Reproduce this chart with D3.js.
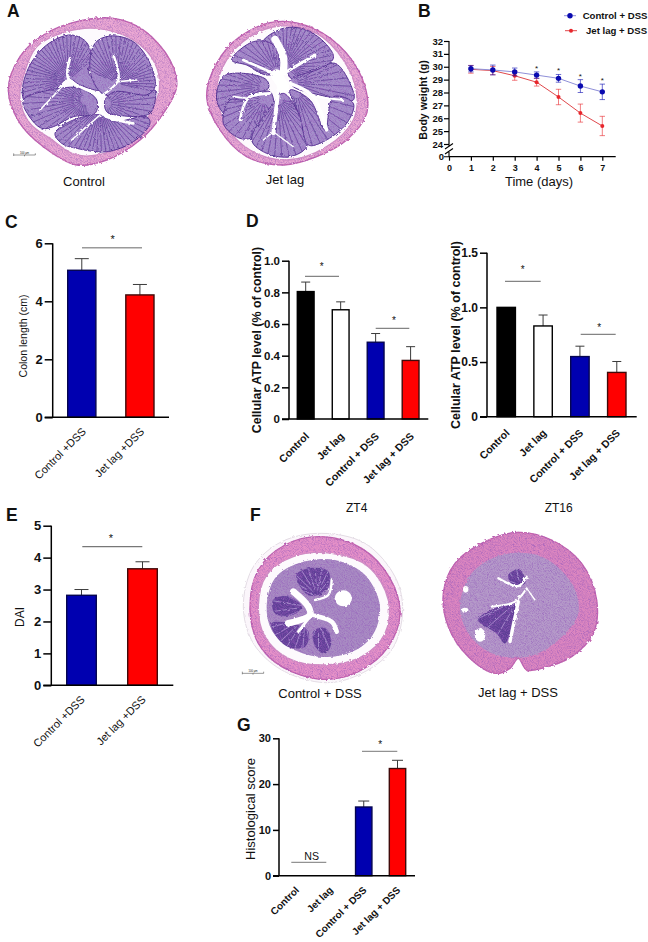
<!DOCTYPE html>
<html><head><meta charset="utf-8">
<style>html,body{margin:0;padding:0;background:#fff}svg{display:block}text{font-family:"Liberation Sans",Arial,sans-serif;fill:#111}</style>
<script src="https://cdn.jsdelivr.net/npm/d3@7"></script></head><body><svg id="c" width="648" height="942"></svg>
<script>
// ---------- data ----------
const days=[1,2,3,4,5,6,7];
const bodyControl=[29.85,29.75,29.6,29.35,29.1,28.5,28.05];
const bodyControlErr=[0.25,0.38,0.3,0.25,0.3,0.5,0.6];
const bodyJet=[29.8,29.7,29.3,28.8,27.65,26.4,25.4];
const bodyJetErr=[0.3,0.32,0.35,0.3,0.6,0.7,0.75];
const bodyStars=[4,5,6,7];
const catsTwo=["Control +DSS","Jet lag +DSS"];
const catsFour=["Control","Jet lag","Control + DSS","Jet lag + DSS"];
const colonLength=[5.07,4.22], colonTop=[5.47,4.58];
const atpZT4=[0.805,0.69,0.485,0.37], atpZT4Top=[0.865,0.74,0.54,0.457];
const atpZT16=[1.0,0.83,0.55,0.405], atpZT16Top=[1.0,0.93,0.645,0.505];
const dai=[2.82,3.65], daiTop=[3.0,3.87];
const histo=[0,0,15,23.4], histoTop=[0,0,16.3,25.2];
const fills2=["#0000b0","#ff0000"], strokes2=["#050550","#400a0a"];
const fills4=["#000","#fff","#0000b0","#ff0000"], strokes4=["#000","#000","#050550","#400a0a"];

const svg=d3.select("#c");
const defs=svg.append("defs");
const f=defs.append("filter").attr("id","grain").attr("x","-5%").attr("y","-5%").attr("width","110%").attr("height","110%");
f.append("feTurbulence").attr("type","fractalNoise").attr("baseFrequency",0.12).attr("numOctaves",2).attr("seed",4).attr("result","n");
f.append("feDisplacementMap").attr("in","SourceGraphic").attr("in2","n").attr("scale",9);
f.append("feGaussianBlur").attr("stdDeviation",1.1);
const tx=defs.append("filter").attr("id","tex").attr("x","-2%").attr("y","-2%").attr("width","104%").attr("height","104%");
tx.append("feTurbulence").attr("type","fractalNoise").attr("baseFrequency",0.28).attr("numOctaves",3).attr("seed",9).attr("result","n");
tx.append("feColorMatrix").attr("in","n").attr("type","matrix").attr("values","0 0 0 0 .3  0 0 0 0 .1  0 0 0 0 .5  1.6 0 0 0 -.62").attr("result","d");
tx.append("feComposite").attr("in","d").attr("in2","SourceAlpha").attr("operator","in").attr("result","s");
const tm=tx.append("feMerge");
tm.append("feMergeNode").attr("in","SourceGraphic");
tm.append("feMergeNode").attr("in","s");

function label(x,y,t,size,weight,anchor,rot,fill){
  const e=svg.append("text").attr("font-size",size).attr("font-weight",weight||"normal").attr("text-anchor",anchor||"middle").text(t);
  if(rot!==undefined) e.attr("transform",`translate(${x},${y}) rotate(${rot})`); else e.attr("x",x).attr("y",y);
  if(fill) e.style("fill",fill);
  return e;
}
function sig(x0,x1,y,color,sw,t,tx,ty,size){
  svg.append("line").attr("x1",x0).attr("x2",x1).attr("y1",y).attr("y2",y).attr("stroke",color).attr("stroke-width",sw);
  label(tx,ty,t,size||10,"normal");
}

// ---------- bar panels ----------
function barPanel(o){
  const y=d3.scaleLinear().domain([0,o.max]).range([o.y0,o.y1]);
  const x=d3.scaleBand().domain(o.cats).range([o.b0,o.b1]).paddingInner(o.pad).paddingOuter(0);
  const g=svg.append("g");
  o.cats.forEach((c,i)=>{
    if(o.vals[i]<=0) return;
    const cx=x(c)+x.bandwidth()/2;
    g.append("line").attr("x1",cx).attr("x2",cx).attr("y1",y(o.vals[i])).attr("y2",y(o.tops[i])).attr("stroke","#3a3a3a").attr("stroke-width",1);
    if(o.tops[i]>o.vals[i]) g.append("line").attr("x1",cx-o.cap).attr("x2",cx+o.cap).attr("y1",y(o.tops[i])).attr("y2",y(o.tops[i])).attr("stroke","#3a3a3a").attr("stroke-width",1);
  });
  g.selectAll("rect").data(o.cats).join("rect")
    .attr("x",d=>x(d)).attr("width",x.bandwidth())
    .attr("y",(d,i)=>y(o.vals[i])).attr("height",(d,i)=>o.y0-y(o.vals[i]))
    .attr("fill",(d,i)=>o.fills[i]).attr("stroke",(d,i)=>o.strokes[i]).attr("stroke-width",1.4);
  const ya=svg.append("g").attr("transform",`translate(${o.ax},0)`)
    .call(d3.axisLeft(y).tickValues(o.ticks).tickFormat(o.fmt).tickSize(o.tick).tickPadding(2));
  ya.selectAll("path,line").attr("stroke","#000").attr("stroke-width",1.5);
  ya.select("path").attr("d",`M0,${o.y0}V${o.y1}`);
  ya.selectAll("text").attr("font-size",o.tsize).attr("font-weight","bold").attr("font-family",null);
  svg.append("line").attr("x1",o.ax-o.tick).attr("x2",o.xEnd).attr("y1",o.y0).attr("y2",o.y0).attr("stroke","#000").attr("stroke-width",1.5);
  o.cats.forEach(c=>{
    label(x(c)+x.bandwidth()/2+o.ldx,o.y0+o.ldy,c,o.lsize,o.lweight,"end",-45);
  });
  return {x,y};
}
barPanel({cats:catsTwo,vals:colonLength,tops:colonTop,max:6,y0:417.3,y1:243.3,b0:67.7,b1:154,pad:0.515,ax:52.7,xEnd:169,cap:7,
  ticks:[0,2,4,6],fmt:d3.format("d"),tick:8,tsize:13,fills:fills2,strokes:strokes2,ldx:5,ldy:15,lsize:11,lweight:"normal"});
barPanel({cats:catsFour,vals:atpZT4,tops:atpZT4Top,max:1,y0:419,y1:260.7,b0:297.3,b1:419,pad:0.52,ax:289,xEnd:428.3,cap:4.5,
  ticks:[0,.2,.4,.6,.8,1],fmt:d=>d===0?"0":d3.format(".1f")(d),tick:7,tsize:11.5,fills:fills4,strokes:strokes4,ldx:4,ldy:18,lsize:10.5,lweight:"bold"});
barPanel({cats:catsFour,vals:atpZT16,tops:atpZT16Top,max:1.5,y0:416.7,y1:252.7,b0:497,b1:626,pad:0.5,ax:487,xEnd:636.7,cap:4.5,
  ticks:[0,.5,1,1.5],fmt:d=>d===0?"0":d3.format(".1f")(d),tick:7,tsize:12,fills:fills4,strokes:strokes4,ldx:4,ldy:17,lsize:10.5,lweight:"bold"});
barPanel({cats:catsTwo,vals:dai,tops:daiTop,max:5,y0:685.3,y1:525.7,b0:66.7,b1:157.3,pad:0.515,ax:51.3,xEnd:173.3,cap:7,
  ticks:[0,1,2,3,4,5],fmt:d3.format("d"),tick:8,tsize:13,fills:fills2,strokes:strokes2,ldx:4,ldy:15,lsize:11,lweight:"normal"});
barPanel({cats:catsFour,vals:histo,tops:histoTop,max:30,y0:875.7,y1:738.3,b0:288,b1:405.7,pad:0.515,ax:279,xEnd:415,cap:5.5,
  ticks:[0,10,20,30],fmt:d3.format("d"),tick:6,tsize:11,fills:fills4,strokes:strokes4,ldx:3.5,ldy:15,lsize:10,lweight:"bold"});

// significance marks
sig(82,142,247.7,"#9a9a9a",1.6,"*",112.7,243,11);
sig(305,339,276.3,"#666",1,"*",321.7,270,10);
sig(375.7,409.3,328.3,"#666",1,"*",394,324,10);
sig(505,540.7,281.3,"#666",1,"*",522.7,273,10);
sig(580.7,615.7,334.3,"#666",1,"*",599.3,331,10);
sig(82.3,142.3,546.7,"#777",1.3,"*",111,542,11);
sig(291.3,326.3,862.3,"#777",1,"NS",311.7,860,10.6);
sig(362,397.3,751.3,"#777",1,"*",380.3,748,10);

// axis titles
label(27,336,"Colon length (cm)",10.5,"normal","middle",-90);
label(260.5,340,"Cellular ATP level (% of control)",12.4,"bold","middle",-90);
label(459.5,335,"Cellular ATP level (% of control)",12.5,"bold","middle",-90);
label(24,617,"DAI",12,"normal","middle",-90);
label(255,809,"Histological score",13,"normal","middle",-90);
label(356.7,512,"ZT4",12);
label(558.7,512,"ZT16",12);

// ---------- line panel B ----------
{
  const x=d3.scaleLinear().domain([0,7]).range([449,602.3]);
  const y=d3.scaleLinear().domain([24,32]).range([144,41]);
  const base=156.7;
  const series=[{v:bodyJet,e:bodyJetErr,c:"#e8262c",l:"#e0484c",r:2},{v:bodyControl,e:bodyControlErr,c:"#0a0ab0",l:"#8f8fd8",r:2.7}];
  const line=d3.line().x((d,i)=>x(days[i])).y(d=>y(d));
  series.forEach(s=>{
    svg.append("path").attr("d",line(s.v)).attr("fill","none").attr("stroke",s.l).attr("stroke-width",1);
    days.forEach((d,i)=>{
      const t=y(s.v[i]+s.e[i]),b=y(s.v[i]-s.e[i]),cx=x(d);
      svg.append("path").attr("d",`M${cx-2.7},${t}H${cx+2.7}M${cx},${t}V${b}M${cx-2.7},${b}H${cx+2.7}`).attr("fill","none").attr("stroke",s.c).attr("stroke-width",.8).attr("opacity",.75);
    });
    svg.selectAll(null).data(s.v).join("circle").attr("cx",(d,i)=>x(days[i])).attr("cy",d=>y(d)).attr("r",s.r).attr("fill",s.c);
  });
  bodyStars.forEach(d=>{
    const i=days.indexOf(d);
    label(x(d),y(bodyControl[i]+bodyControlErr[i])-1,"*",8);
  });
  const ya=svg.append("g").attr("transform","translate(449,0)")
    .call(d3.axisLeft(y).tickValues(d3.range(24,33)).tickSize(5).tickPadding(1));
  ya.selectAll("path,line").attr("stroke","#000").attr("stroke-width",1.2);
  ya.select("path").attr("d","M0,144V41");
  ya.selectAll("text").attr("font-size",9.5).attr("font-weight","bold").attr("font-family",null);
  const xa=svg.append("g").attr("transform",`translate(0,${base})`)
    .call(d3.axisBottom(x).tickValues([0].concat(days)).tickFormat(d3.format("d")).tickSize(4).tickPadding(4));
  xa.selectAll("path,line").attr("stroke","#000").attr("stroke-width",1.2);
  xa.select("path").attr("d","M449,0H615.7");
  xa.selectAll("text").attr("font-size",9).attr("font-weight","bold").attr("font-family",null);
  svg.append("path").attr("d",`M449,144V146M449,152V${base}M444,${base}H449M445,149L453,143.5M445,154L453,148.5`).attr("fill","none").attr("stroke","#000").attr("stroke-width",1.1);
  label(444,160,"0",9.5,"bold","end");
  label(427,100,"Body weight (g)",10.6,"bold","middle",-90);
  label(539,186,"Time (days)",13);
  svg.append("line").attr("x1",564).attr("x2",576).attr("y1",15.7).attr("y2",15.7).attr("stroke","#8f8fd8");
  svg.append("circle").attr("cx",570).attr("cy",15.7).attr("r",2.7).attr("fill","#0a0ab0");
  svg.append("line").attr("x1",565).attr("x2",577).attr("y1",30.7).attr("y2",30.7).attr("stroke","#e0484c");
  svg.append("circle").attr("cx",571).attr("cy",30.7).attr("r",2).attr("fill","#e8262c");
  label(582.7,19,"Control + DSS",9.6,"bold","start");
  label(586,34,"Jet lag + DSS",9.6,"bold","start");
}

// ---------- panel letters & captions ----------
[["A",7,17],["B",418,17],["C",5,228],["D",246,227],["E",6,521],["F",250,521],["G",237,731]].forEach(d=>label(d[1],d[2],d[0],17.5,"bold","start"));
label(84,186,"Control",13);
label(285,184,"Jet lag",13);
label(320,698,"Control + DSS",13);
label(518,697,"Jet lag + DSS",13);

// ---------- micrographs (schematic tissue sections) ----------
const closed=d3.line().curve(d3.curveCatmullRomClosed.alpha(.5));
const open=d3.line().curve(d3.curveCatmullRom.alpha(.5));
let clipId=0;
function fan(g,poly,root,n,color,w){
  const id="cl"+(clipId++);
  defs.append("clipPath").attr("id",id).append("path").attr("d",closed(poly));
  const gg=g.append("g").attr("clip-path",`url(#${id})`);
  const cx=d3.mean(poly,p=>p[0]),cy=d3.mean(poly,p=>p[1]);
  const a0=Math.atan2(cy-root[1],cx-root[0]);
  for(let i=0;i<n;i++){
    const a=a0-1.5+3*(i+.5)/n;
    gg.append("line").attr("x1",root[0]+(i%2?14:34)*Math.cos(a)).attr("y1",root[1]+(i%2?14:34)*Math.sin(a))
      .attr("x2",root[0]+260*Math.cos(a)).attr("y2",root[1]+260*Math.sin(a))
      .attr("stroke",color).attr("stroke-width",w);
  }
}
function section(tx,ty,o){
  const root=svg.append("g").attr("transform",`translate(${tx},${ty}) scale(${1/3})`);
  const g=root.append("g").attr("filter","url(#grain)");
  if(o.halo) g.append("path").attr("d",closed(o.halo)).attr("fill","#fbf6fb").attr("stroke","#c8bccb").attr("stroke-width",1.5);
  g.append("path").attr("d",closed(o.outer)).attr("fill",o.pink).attr("stroke","#c565ad").attr("stroke-width",4).attr("filter","url(#tex)");
  if(o.gap) g.append("path").attr("d",closed(o.gap)).attr("fill","#fdfafd").attr("stroke","#cf8cc4").attr("stroke-width",4);
  const m=g.append("g").attr("filter","url(#tex)");
  if(o.mucosa) m.append("path").attr("d",closed(o.mucosa)).attr("fill",o.mucosaFill);
  o.lobes.forEach(l=>{
    m.append("path").attr("d",closed(l.p)).attr("fill",o.lobeFill);
    fan(m,l.p,l.r,l.n||18,o.crypt,o.cryptW);
    m.append("path").attr("d",closed(l.p)).attr("fill","none").attr("stroke","#4a2f8c").attr("stroke-width",o.lobeStroke);
  });
  o.lumen.forEach(l=>g.append("path").attr("d",open(l.p)).attr("fill","none").attr("stroke","#fff").attr("stroke-width",l.w).attr("stroke-linecap","round"));
  (o.holes||[]).forEach(h=>g.append("ellipse").attr("cx",h[0]).attr("cy",h[1]).attr("rx",h[2]).attr("ry",h[3]).attr("fill","#fff"));
  if(o.bar){
    root.append("path").attr("d",`M${o.bar[0]},${o.bar[1]-5}v8M${o.bar[0]},${o.bar[1]}H${o.bar[2]}v-5M${(o.bar[0]+o.bar[2])/2},${o.bar[1]}v4`).attr("fill","none").attr("stroke","#333").attr("stroke-width",1.5);
    root.append("text").attr("x",(o.bar[0]+o.bar[2])/2).attr("y",o.bar[1]-4).attr("text-anchor","middle").attr("font-size",8).text("100 µm");
  }
}
section(0,0,{pink:"#eba8d3",
  outer:[[25,270],[60,170],[130,105],[230,65],[340,55],[430,90],[510,180],[530,260],[490,340],[420,420],[320,480],[230,495],[130,440],[60,370]],
  gap:[[70,230],[110,140],[200,95],[290,85],[400,120],[465,190],[478,270],[450,340],[420,400],[330,455],[230,465],[150,415],[90,370],[60,300]],
  lobeFill:"#a58fca",crypt:"#5f4499",cryptW:2.6,lobeStroke:3,
  lobes:[
   {p:[[68,290],[85,205],[140,135],[210,105],[258,125],[275,175],[265,215],[300,270],[240,255],[205,235],[150,290],[105,340]],r:[205,240],n:30},
   {p:[[285,130],[330,108],[400,125],[450,190],[465,260],[440,285],[340,290],[300,275],[270,210]],r:[350,250],n:30},
   {p:[[70,300],[180,265],[240,265],[290,300],[285,340],[220,350],[160,380],[125,385],[85,345]],r:[255,300],n:26},
   {p:[[165,400],[220,360],[310,345],[340,365],[440,350],[450,370],[400,425],[320,455],[230,445],[185,430]],r:[300,320],n:30},
   {p:[[315,300],[345,275],[440,285],[465,270],[450,340],[350,345],[320,335]],r:[320,310],n:20}],
  lumen:[{p:[[210,175],[205,235],[300,285]],w:8},{p:[[120,330],[205,240]],w:5},{p:[[340,165],[355,240],[300,290]],w:7},{p:[[355,245],[410,240]],w:5},
         {p:[[300,285],[305,340],[400,370]],w:8},{p:[[215,420],[300,345]],w:5}],
  bar:[41,465,106]});
section(0,0,{pink:"#eba8d3",
  outer:[[620,290],[650,190],[720,110],[830,65],[940,85],[1040,160],[1095,260],[1100,340],[1040,420],[950,470],[850,495],[740,470],[660,390]],
  gap:[[650,270],[680,180],[750,110],[840,78],[950,100],[1030,180],[1070,280],[1060,360],[980,440],[860,480],[750,450],[680,380]],
  lobeFill:"#a58fca",crypt:"#5f4499",cryptW:2.6,lobeStroke:3,
  lobes:[
   {p:[[790,125],[850,85],[920,90],[985,140],[1000,175],[945,215],[880,240],[860,210],[850,150]],r:[855,200],n:26},
   {p:[[695,180],[760,125],[820,135],[840,210],[800,225],[740,195]],r:[830,215],n:20},
   {p:[[650,300],[670,230],[730,220],[800,240],[805,265],[740,290],[720,370],[680,350]],r:[790,260],n:20},
   {p:[[690,300],[730,300],[810,275],[815,380],[770,410],[720,415],[670,370]],r:[790,300],n:18},
   {p:[[755,420],[820,310],[850,280],[910,370],[920,440],[870,470],[800,460]],r:[835,300],n:24},
   {p:[[870,240],[950,210],[1005,190],[1050,250],[1060,300],[960,285],[880,260]],r:[880,250],n:20},
   {p:[[870,270],[930,300],[975,390],[1000,290],[1060,310],[1040,370],[970,425],[925,435],[900,350]],r:[890,280],n:20}],
  lumen:[{p:[[825,118],[850,170],[850,215]],w:22},{p:[[945,165],[860,215]],w:9},{p:[[730,180],[820,220]],w:8},{p:[[835,270],[820,400]],w:12},
         {p:[[870,250],[940,290],[980,390]],w:10},{p:[[940,290],[1030,300]],w:6},{p:[[810,280],[745,295],[720,360]],w:8},{p:[[700,290],[745,295]],w:5},
         {p:[[820,395],[880,440]],w:4},{p:[[820,395],[790,420]],w:4},{p:[[830,225],[850,260]],w:34}]});
section(225,500,{pink:"#e691c8",
  halo:[[55,320],[85,200],[170,125],[290,100],[420,130],[510,230],[533,330],[500,450],[400,525],[300,548],[170,510],[85,430]],
  outer:[[75,325],[100,210],[180,135],[290,110],[410,145],[495,235],[525,340],[490,440],[400,515],[290,538],[170,500],[100,430]],
  gap:[[100,320],[125,225],[205,170],[320,160],[430,200],[490,300],[480,400],[410,470],[300,495],[190,475],[120,410]],
  mucosa:[[125,320],[150,235],[220,190],[330,180],[420,225],[465,320],[440,410],[370,460],[280,470],[190,440],[140,390]],mucosaFill:"#a98cc3",
  lobeFill:"#5f3f96",crypt:"#a892cc",cryptW:3,lobeStroke:1,
  lobes:[
   {p:[[215,225],[255,205],[310,215],[305,270],[250,285]],r:[275,285],n:12},
   {p:[[145,300],[190,290],[230,320],[200,345],[150,340]],r:[250,320],n:10},
   {p:[[140,370],[215,375],[250,395],[240,440],[190,440],[155,410]],r:[240,355],n:12},
   {p:[[265,395],[300,385],[318,430],[300,460],[275,445]],r:[280,365],n:8}],
  lumen:[{p:[[205,275],[250,320],[255,345],[190,370]],w:20},{p:[[255,345],[320,365],[335,395]],w:14},{p:[[270,300],[310,285],[320,240]],w:7},{p:[[220,395],[255,350]],w:8}],
  holes:[[355,295,26,24]],bar:[52,520,116]});
section(225,500,{pink:"#dc86c0",
  outer:[[655,280],[690,190],[780,125],[880,97],[980,120],[1070,190],[1115,300],[1105,400],[1040,470],[950,505],[905,510],[880,475],[855,505],[810,520],[730,470],[670,380]],
  mucosa:[[705,320],[740,220],[830,165],[950,170],[1040,250],[1060,340],[1000,420],[910,470],[800,460],[730,400]],mucosaFill:"#b59ac9",
  lobeFill:"#5f3f96",crypt:"#a892cc",cryptW:3,lobeStroke:1,
  lobes:[
   {p:[[760,360],[810,325],[868,310],[860,370],[840,430],[815,400]],r:[880,300],n:10},
   {p:[[850,225],[885,210],[900,250],[865,255]],r:[885,255],n:6}],
  lumen:[{p:[[820,235],[880,258],[905,230]],w:7},{p:[[905,265],[870,305],[800,320]],w:6},{p:[[880,305],[855,425]],w:10},{p:[[905,265],[930,300]],w:4}],
  holes:[[765,405,16,20],[722,268,8,10],[720,330,10,7]]});
</script></body></html>
